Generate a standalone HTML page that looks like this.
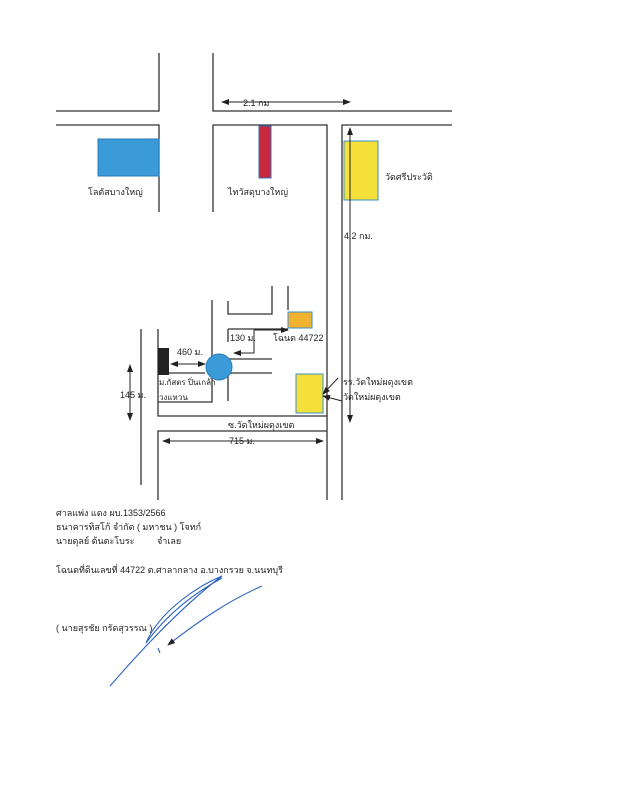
<!DOCTYPE html>
<html><head><meta charset="utf-8"><style>
html,body{margin:0;padding:0;background:#fff;}
svg{display:block}
text{font-family:"Liberation Sans","Noto Sans CJK SC",sans-serif;fill:#222;}
</style></head><body>
<svg width="617" height="800" viewBox="0 0 617 800" xmlns="http://www.w3.org/2000/svg">
<defs>
<marker id="a" markerWidth="8" markerHeight="8" refX="7" refY="4" orient="auto-start-reverse" markerUnits="userSpaceOnUse"><path d="M0,1 L8,4 L0,7 Z" fill="#222"/></marker>
</defs>
<g stroke="#333" stroke-width="1.3" fill="none">
<polyline points="56,111 159,111 159,53"/>
<polyline points="213,53 213,111 452,111"/>
<polyline points="56,125 159,125 159,212"/>
<polyline points="213,212 213,125 327,125 327,500"/>
<polyline points="452,125 342,125 342,500"/>
<polyline points="212,300 212,402 158,402"/>
<polyline points="228,301 228,314 272,314 272,286"/>
<polyline points="228,373 228,401"/>
<line x1="228" y1="329" x2="228" y2="342"/>
<line x1="228" y1="329" x2="288" y2="329"/>
<line x1="219" y1="359" x2="272" y2="359"/>
<line x1="228" y1="373" x2="272" y2="373"/>
<line x1="169" y1="373" x2="205" y2="373"/>
<polyline points="158,329 158,416 327,416"/>
<polyline points="158,500 158,431 327,431"/>
<line x1="141" y1="329" x2="141" y2="485"/>
<line x1="288" y1="286" x2="288" y2="310"/>
</g>
<rect x="98" y="139" width="61" height="37" fill="#3b9ad8" stroke="#2a7ab8"/>
<rect x="259" y="126" width="12" height="52" fill="#c8283c" stroke="#3b6fb8"/>
<rect x="344" y="141" width="34" height="59" fill="#f5e03a" stroke="#3b8fc8"/>
<rect x="288" y="312" width="24" height="16" fill="#f0b030" stroke="#3b8fc8"/>
<rect x="296" y="374" width="27" height="39" fill="#f5e03a" stroke="#3b8fc8"/>
<rect x="158" y="348" width="11" height="27" fill="#222"/>
<circle cx="219" cy="367" r="13" fill="#3b9ad8" stroke="#2a7ab8"/>
<g stroke="#222" stroke-width="1" fill="none">
<line x1="222" y1="102" x2="350" y2="102" marker-start="url(#a)" marker-end="url(#a)"/>
<line x1="350" y1="128" x2="350" y2="422" marker-start="url(#a)" marker-end="url(#a)"/>
<line x1="171" y1="364" x2="205" y2="364" marker-start="url(#a)" marker-end="url(#a)"/>
<line x1="130" y1="365" x2="130" y2="420" marker-start="url(#a)" marker-end="url(#a)"/>
<line x1="163" y1="441" x2="323" y2="441" marker-start="url(#a)" marker-end="url(#a)"/>
<polyline points="254,330 288,330" marker-end="url(#a)"/>
<polyline points="254,330 254,353 234,353" marker-end="url(#a)"/>
<line x1="338" y1="378" x2="323" y2="394" marker-end="url(#a)"/>
<line x1="342" y1="401" x2="323" y2="396" marker-end="url(#a)"/>
</g>
<g font-size="9">
<text x="243" y="106">2.1 กม</text>
<text x="88" y="195">โลตัสบางใหญ่</text>
<text x="228" y="195">ไทวัสดุบางใหญ่</text>
<text x="385" y="180">วัดศรีประวัติ</text>
<text x="344" y="239">4.2 กม.</text>
<text x="230" y="341">130 ม.</text>
<text x="273" y="341">โฉนด 44722</text>
<text x="177" y="355">460 ม.</text>
<text x="159" y="385" font-size="8">ม.กัสตร ปิ่นเกล้า</text>
<text x="159" y="400" font-size="8">วงแหวน</text>
<text x="120" y="398">145 ม.</text>
<text x="343" y="385">รร.วัดใหม่ผดุงเขต</text>
<text x="343" y="400">วัดใหม่ผดุงเขต</text>
<text x="228" y="428">ซ.วัดใหม่ผดุงเขต</text>
<text x="229" y="444">715 ม.</text>
<text x="56" y="516">ศาลแพ่ง แดง ผบ.1353/2566</text>
<text x="56" y="530">ธนาคารทิสโก้ จำกัด ( มหาชน )  โจทก์</text>
<text x="56" y="544">นายดุลย์ ต้นตะโบระ</text>
<text x="157" y="544">จำเลย</text>
<text x="56" y="573">โฉนดที่ดินเลขที่ 44722 ต.ศาลากลาง อ.บางกรวย จ.นนทบุรี</text>
<text x="56" y="631">( นายสุรชัย  กรัดสุวรรณ )</text>
</g>
<g stroke="#2a62c0" stroke-width="1.1" fill="none">
<path d="M110,686 C150,640 190,600 222,576 C200,585 160,610 146,643 C170,610 200,590 222,578"/>
<path d="M262,586 C230,600 200,620 168,645" marker-end="url(#a)"/>
<path d="M158,648 l2,5"/>
</g>
</svg>
</body></html>
